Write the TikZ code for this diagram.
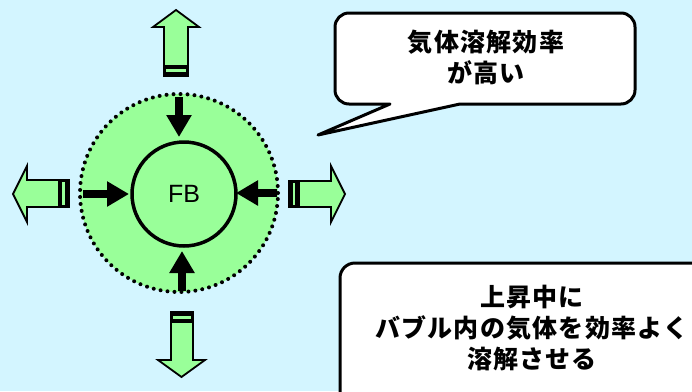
\documentclass[tikz,border=0pt]{standalone}
\usepackage{fontspec}
\setmainfont{Liberation Sans}
\newfontfamily\jp[LetterSpace=5]{Noto Sans CJK JP}
\usetikzlibrary{arrows.meta}
\definecolor{bg}{RGB}{211,245,255}
\definecolor{grn}{RGB}{153,255,153}
\begin{document}
\begin{tikzpicture}[x=1pt,y=-1pt,
  arrowfill/.style={fill=grn},
  arrowline/.style={draw=black,line width=1.8pt,line join=miter},
  band/.style={fill=black},
  stripe/.style={fill=grn},
  inarrow/.style={line width=8pt,-{Triangle[width=24pt,length=22pt]}},
  callout/.style={fill=white,draw=black,line width=3pt,line join=round},
  jptext/.style={font=\jp\bfseries\fontsize{25}{31}\selectfont,align=center,inner sep=0pt}]
\fill[bg] (0,0) rectangle (692,391);
\useasboundingbox (0,0) rectangle (692,391);
\begin{scope}
\clip (0,0) rectangle (692,391);
% bubble
\node[circle,minimum size=198pt,inner sep=0pt,fill=grn,draw=black,line width=4pt,
      dash pattern=on 0pt off 7pt,line cap=round] (bub) at (179,193) {};
\node[circle,minimum size=104pt,inner sep=0pt,draw=black,line width=3.5pt,
      font=\fontsize{25}{25}\selectfont] (fb) at (184,194) {FB};
% inward arrows
\coordinate (ta) at (179,97);  \coordinate (tb) at (179,137);
\coordinate (ba) at (182,291); \coordinate (bb) at (182,251);
\coordinate (la) at (83,194);  \coordinate (lb) at (129,194);
\coordinate (ra) at (277,193); \coordinate (rb) at (236,193);
\draw[inarrow] (ta) -- (tb);
\draw[inarrow] (ba) -- (bb);
\draw[inarrow] (la) -- (lb);
\draw[inarrow] (ra) -- (rb);
% outward striped block arrows
% up
\def\uparr{(164,76) -- (164,27) -- (153,27) -- (176,10) -- (199,27) -- (188,27) -- (188,76) -- cycle}
\fill[arrowfill] \uparr;
\fill[band] (164,65) rectangle (188,76);
\fill[stripe] (166,69) rectangle (186,71.5);
\draw[arrowline] \uparr;
% down
\def\dnarr{(171,312) -- (171,360) -- (158,360) -- (181.5,377) -- (205,360) -- (193,360) -- (193,312) -- cycle}
\fill[arrowfill] \dnarr;
\fill[band] (171,312) rectangle (193,323);
\fill[stripe] (173,316) rectangle (191,318.5);
\draw[arrowline] \dnarr;
% left
\def\lfarr{(69,180) -- (27,180) -- (27,166) -- (13,194) -- (27,222) -- (27,207) -- (69,207) -- cycle}
\fill[arrowfill] \lfarr;
\fill[band] (58,180) rectangle (69,207);
\fill[stripe] (62,182) rectangle (64.5,205);
\draw[arrowline] \lfarr;
% right
\def\rtarr{(289,181) -- (331,181) -- (331,166) -- (345,194) -- (331,222) -- (331,207) -- (289,207) -- cycle}
\fill[arrowfill] \rtarr;
\fill[band] (289,181) rectangle (300,207);
\fill[stripe] (292.5,183) rectangle (295,205);
\draw[arrowline] \rtarr;
% callout 1
\draw[callout] (390,104) [rounded corners=14pt] -- (335,104) -- (335,13) -- (635,13) -- (635,104)
  [sharp corners] -- (460,104) -- (318,135) -- cycle;
\node[jptext] (c1) at (486,57) {気体溶解効率\\が高い};
% callout 2
\draw[callout,rounded corners=15pt] (340,263) rectangle (730,430);
\node[jptext] (c2) at (532,328) {上昇中に\\バブル内の気体を効率よく\\溶解させる};
\end{scope}
\end{tikzpicture}
\end{document}
